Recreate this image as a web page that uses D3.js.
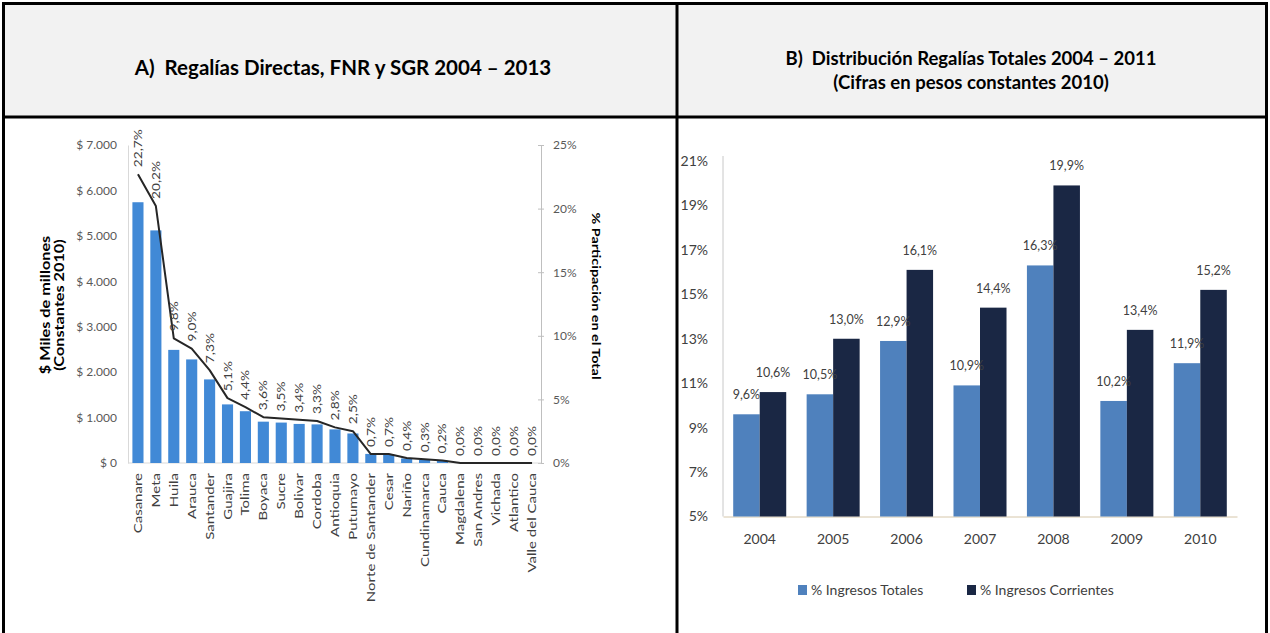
<!DOCTYPE html>
<html>
<head>
<meta charset="utf-8">
<script src="https://cdn.jsdelivr.net/npm/d3@7"></script>
<style>
  html, body { margin: 0; padding: 0; background: #fff; }
  svg { display: block; }
  text { font-family: Lato, "Open Sans", sans-serif; }
  .title { white-space: pre; }
</style>
</head>
<body>
<svg id="chart" width="1270" height="633"></svg>
<script>
// Panel A: regalías por departamento (miles de millones, constantes 2010) y % del total
const departamentos = ["Casanare", "Meta", "Huila", "Arauca", "Santander", "Guajira", "Tolima",
  "Boyaca", "Sucre", "Bolivar", "Cordoba", "Antioquia", "Putumayo", "Norte de Santander",
  "Cesar", "Nariño", "Cundinamarca", "Cauca", "Magdalena", "San Andres", "Vichada",
  "Atlantico", "Valle del Cauca"];
const regalias = [5740, 5120, 2490, 2280, 1840, 1290, 1140, 910, 890, 860, 850, 740, 650,
  200, 190, 100, 70, 50, 0, 0, 0, 0, 0];
const participacion = [22.7, 20.2, 9.8, 9.0, 7.3, 5.1, 4.4, 3.6, 3.5, 3.4, 3.3, 2.8, 2.5,
  0.7, 0.7, 0.4, 0.3, 0.2, 0.0, 0.0, 0.0, 0.0, 0.0];
const ticksRegalias = [0, 1000, 2000, 3000, 4000, 5000, 6000, 7000];
const ticksParticipacion = [0, 5, 10, 15, 20, 25];

// Panel B: distribución de regalías totales por año
const anios = ["2004", "2005", "2006", "2007", "2008", "2009", "2010"];
const ingresosTotales = [9.6, 10.5, 12.9, 10.9, 16.3, 10.2, 11.9];
const ingresosCorrientes = [10.6, 13.0, 16.1, 14.4, 19.9, 13.4, 15.2];
const ticksDistribucion = [5, 7, 9, 11, 13, 15, 17, 19, 21];
const series = ["% Ingresos Totales", "% Ingresos Corrientes"];

const es = d3.formatLocale({ decimal: ",", thousands: ".", grouping: [3], currency: ["$ ", ""] });
const fmtPeso = es.format("$,.0f");
const fmtPct1 = v => es.format(".1f")(v) + "%";
const fmtPct0 = v => es.format(".0f")(v) + "%";

const svg = d3.select("#chart");

// ---- Table frame ----
svg.append("rect").attr("x", 3).attr("y", 3).attr("width", 1264).attr("height", 114).attr("fill", "#f2f2f2");
const frame = svg.append("g").attr("stroke", "#000").attr("stroke-width", 3);
frame.append("line").attr("x1", 2).attr("x2", 1268).attr("y1", 3.5).attr("y2", 3.5);
frame.append("line").attr("x1", 3.5).attr("x2", 3.5).attr("y1", 2).attr("y2", 633);
frame.append("line").attr("x1", 1266.5).attr("x2", 1266.5).attr("y1", 2).attr("y2", 633);
frame.append("line").attr("x1", 2).attr("x2", 1268).attr("y1", 117).attr("y2", 117);
frame.append("line").attr("x1", 677).attr("x2", 677).attr("y1", 2).attr("y2", 633);

const titles = svg.append("g").attr("font-weight", "bold").attr("fill", "#000").attr("text-anchor", "middle");
titles.append("text").attr("class", "title").attr("x", 343).attr("y", 75).attr("font-size", 20.5)
  .text("A)  Regalías Directas, FNR y SGR 2004 – 2013");
titles.append("text").attr("class", "title").attr("x", 971).attr("y", 65).attr("font-size", 18.5)
  .text("B)  Distribución Regalías Totales 2004 – 2011");
titles.append("text").attr("class", "title").attr("x", 971).attr("y", 89).attr("font-size", 18.5)
  .text("(Cifras en pesos constantes 2010)");

// ---- Panel A ----
const STRETCH = 1.25;
const xA = d3.scaleBand().domain(departamentos).range([129, 541]).paddingInner(0.38).paddingOuter(0.19);
const yA = d3.scaleLinear().domain([0, 7000]).range([463, 145]);
const yP = d3.scaleLinear().domain([0, 25]).range([463, 145]);

const gA = svg.append("g");

// left axis
const axL = gA.append("g").attr("transform", "translate(128,0)")
  .call(d3.axisLeft(yA).tickValues(ticksRegalias).tickFormat(fmtPeso).tickSize(0).tickPadding(11));
axL.select(".domain").attr("stroke", "#d9d9d9");
axL.selectAll("text").attr("font-size", 12).attr("fill", "#595959").attr("font-family", "Lato");

// right axis
const axR = gA.append("g").attr("transform", "translate(541,0)")
  .call(d3.axisRight(yP).tickValues(ticksParticipacion).tickFormat(fmtPct0).tickSize(3).tickPadding(9));
axR.select(".domain").attr("stroke", "#bfbfbf");
axR.selectAll(".tick line").attr("stroke", "#bfbfbf").attr("x1", -3);
axR.selectAll("text").attr("font-size", 12).attr("fill", "#595959").attr("font-family", "Lato");

// baseline
gA.append("line").attr("x1", 128).attr("x2", 541).attr("y1", yA(0)).attr("y2", yA(0)).attr("stroke", "#d9d9d9");

// bars
gA.append("g").selectAll("rect").data(departamentos).join("rect")
  .attr("x", d => xA(d))
  .attr("width", xA.bandwidth())
  .attr("y", (d, i) => yA(regalias[i]))
  .attr("height", (d, i) => yA(0) - yA(regalias[i]))
  .attr("fill", "#4189d6");

// participation line
const cx = d => xA(d) + xA.bandwidth() / 2;
gA.append("path")
  .datum(departamentos)
  .attr("fill", "none").attr("stroke", "#262626").attr("stroke-width", 2).attr("stroke-linejoin", "round")
  .attr("d", d3.line().x(d => cx(d)).y((d, i) => yP(participacion[i])));

// participation labels
gA.append("g").selectAll("text").data(departamentos).join("text")
  .attr("transform", (d, i) => `translate(${cx(d) + 4},${yP(participacion[i]) - 7}) scale(1,${STRETCH}) rotate(-90)`)
  .attr("font-size", 11).attr("fill", "#404040")
  .text((d, i) => fmtPct1(participacion[i]));

// category labels
gA.append("g").selectAll("text").data(departamentos).join("text")
  .attr("transform", d => `translate(${cx(d) + 4},473) scale(1,${STRETCH}) rotate(-90)`)
  .attr("text-anchor", "end")
  .attr("font-size", 12).attr("fill", "#404040")
  .text(d => d);

// axis titles
const tl = gA.append("g").attr("transform", `translate(0,305) scale(1,${STRETCH})`)
  .attr("font-weight", "bold").attr("font-size", 13).attr("fill", "#000").attr("text-anchor", "middle");
tl.append("text").attr("transform", "translate(50,0) rotate(-90)").text("$ Miles de millones");
tl.append("text").attr("transform", "translate(64,0) rotate(-90)").text("(Constantes 2010)");

gA.append("g").attr("transform", `translate(592,296) scale(1,${STRETCH})`)
  .append("text").attr("transform", "rotate(90)")
  .attr("font-weight", "bold").attr("font-size", 11.5).attr("fill", "#000").attr("text-anchor", "middle")
  .text("% Participación en el Total");

// ---- Panel B ----
const xB = d3.scaleBand().domain(anios).range([723, 1237]).paddingInner(0.278).paddingOuter(0.139);
const xS = d3.scaleBand().domain(series).range([0, xB.bandwidth()]);
const yB = d3.scaleLinear().domain([5, 21]).range([516.5, 161]);
const colors = d3.scaleOrdinal().domain(series).range(["#4f81bd", "#1a2744"]);

const gB = svg.append("g");

const axB = gB.append("g").attr("transform", "translate(723,0)")
  .call(d3.axisLeft(yB).tickValues(ticksDistribucion).tickFormat(fmtPct0).tickSize(0).tickPadding(15));
axB.select(".domain").attr("stroke", "#c8c8c8").attr("d", `M0,${yB(21) - 5}V${yB(5)}`);
axB.selectAll("text").attr("font-size", 14).attr("fill", "#404040").attr("font-family", "Lato");

const axBx = gB.append("g").attr("transform", `translate(0,${yB(5)})`)
  .call(d3.axisBottom(xB).tickSize(0).tickPadding(18));
axBx.select(".domain").attr("stroke", "#d6c7aa");
axBx.selectAll("text").attr("font-size", 14).attr("fill", "#404040").attr("font-family", "Lato");

const rows = anios.map((a, i) => ({ anio: a, vals: [ingresosTotales[i], ingresosCorrientes[i]] }));
const grp = gB.append("g").selectAll("g").data(rows).join("g")
  .attr("transform", d => `translate(${xB(d.anio)},0)`);
grp.selectAll("rect").data(d => d.vals.map((v, j) => ({ s: series[j], v }))).join("rect")
  .attr("x", d => xS(d.s)).attr("width", xS.bandwidth())
  .attr("y", d => yB(d.v)).attr("height", d => yB(5) - yB(d.v))
  .attr("fill", d => colors(d.s));
grp.selectAll("text").data(d => d.vals.map((v, j) => ({ s: series[j], v }))).join("text")
  .attr("x", d => xS(d.s) + xS.bandwidth() / 2).attr("y", d => yB(d.v) - 15)
  .attr("text-anchor", "middle").attr("font-size", 12.5).attr("fill", "#404040")
  .text(d => fmtPct1(d.v));

// legend
const legX = [798, 967];
const leg = gB.append("g").selectAll("g").data(series).join("g")
  .attr("transform", (d, i) => `translate(${legX[i]},585)`);
leg.append("rect").attr("width", 9).attr("height", 10).attr("fill", d => colors(d));
leg.append("text").attr("x", 13).attr("y", 10).attr("font-size", 14).attr("fill", "#404040").text(d => d);
</script>
</body>
</html>
